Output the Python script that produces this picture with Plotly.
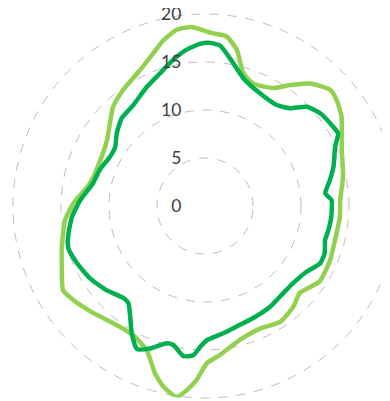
import plotly.graph_objects as go

# Dark green series: angle (deg, clockwise from top) and value
dark_theta = [1.75, 5.3, 9.6, 16.7, 26, 35.4, 41, 45.7, 51, 58.3, 61.4, 65.5, 73, 78.2, 84, 87.3,
              94.8, 101, 105.8, 111.5, 116.5, 122.9, 131.2, 138.1, 147.1, 156.7, 163.6, 171.8,
              179.3, 182, 184.5, 188.2, 192.8, 195.6, 201.1, 205.5, 209.9, 214.1, 218.2, 221.5,
              229.5, 237.8, 245.9, 252.8, 258.7, 265.4, 272.7, 281.5, 288.9, 297.4, 303.4, 309.4,
              316.4, 324.6, 333.9, 341.3, 347.8, 353.3, 358.2]
dark_r = [17.0, 16.8, 15.6, 13.9, 13.06, 12.9, 13.5, 14.8, 15.4, 15.7, 15.8, 14.9, 14.0, 13.3, 12.6, 13.2,
          13.2, 13.1, 13.0, 13.4, 13.4, 12.6, 12.2, 12.2, 12.5, 12.7, 12.9, 13.4,
          14.0, 14.7, 15.6, 15.8, 14.85, 14.85, 15.9, 16.5, 15.3, 13.9, 12.9, 12.8,
          13.5, 14.15, 14.6, 14.9, 14.5, 13.9, 13.0, 11.9, 11.6, 11.15, 11.2, 11.9,
          12.6, 12.9, 13.8, 14.6, 15.6, 16.4, 16.9]

# Light green series
light_theta = [0.5, 2.8, 7.3, 11.5, 16.1, 21.5, 30.1, 35.1, 40.6, 47.1, 51.2, 56.8, 67.7, 78, 87.5,
               94.5, 104.7, 113.4, 123.3, 132.6, 138.7, 147, 155.8, 165.4, 174.3, 179.4, 182.7,
               185.7, 188.5, 193, 196.6, 202, 209, 218, 226.1, 234.5, 239.3, 247, 254.2, 264.3,
               271.2, 281.2, 293.7, 303.9, 317.3, 324.9, 334.5, 341.3, 345.9, 350.9, 355.7]
light_r = [18.2, 18.0, 17.8, 16.6, 14.4, 13.7, 14.2, 15.4, 16.8, 17.8, 17.6, 17.0, 15.4, 14.7, 14.1,
           14.1, 14.0, 14.2, 14.3, 13.4, 13.95, 14.4, 14.0, 14.4, 15.6, 16.4, 18.1,
           19.3, 20.1, 19.3, 18.2, 16.2, 15.4, 15.5, 16.1, 16.85, 17.2, 16.2, 15.5, 14.65,
           13.7, 12.2, 11.9, 12.3, 14.1, 14.8, 15.7, 16.8, 17.8, 18.6, 18.7]

tick_vals = [0, 5, 10, 15, 20]
tick_text = ["0", "5", "10", "15", "20"]

# page body has an 8px margin, so the figure is laid out slightly larger than the window
W, H = 400, 410
rmax = 20.15
k = 9.6
R_px = k * rmax
cx, cy = 197, 198

fig = go.Figure()
fig.add_trace(go.Scatterpolar(
    r=light_r + light_r[:1], theta=light_theta + light_theta[:1], mode="lines",
    line=dict(color="#92D050", width=4.5, shape="spline", smoothing=0.5), hoverinfo="skip"))
fig.add_trace(go.Scatterpolar(
    r=dark_r + dark_r[:1], theta=dark_theta + dark_theta[:1], mode="lines",
    line=dict(color="#00B050", width=4.5, shape="spline", smoothing=0.5), hoverinfo="skip"))

fig.update_layout(
    width=W, height=H,
    margin=dict(l=0, r=0, t=0, b=0),
    paper_bgcolor="white",
    showlegend=False,
    polar=dict(
        domain=dict(x=[(cx - R_px) / W, (cx + R_px) / W],
                    y=[(H - cy - R_px) / H, (H - cy + R_px) / H]),
        bgcolor="white",
        angularaxis=dict(rotation=90, direction="clockwise", showgrid=False, showline=False,
                         showticklabels=False, ticks=""),
        radialaxis=dict(range=[0, rmax], angle=90, side="counterclockwise", tickangle=90,
                        tickvals=tick_vals, ticktext=tick_text,
                        showline=False, ticks="outside", ticklen=17, tickcolor="rgba(0,0,0,0)",
                        tickfont=dict(family="Lato", size=17.5, color="#404040"),
                        gridcolor="#BDBDBD", griddash="dash", gridwidth=1),
    ),
)
try:
    fig.update_layout(polar_radialaxis_ticklabelshift=-4)
except Exception:
    pass

fig.write_html("out.html")
